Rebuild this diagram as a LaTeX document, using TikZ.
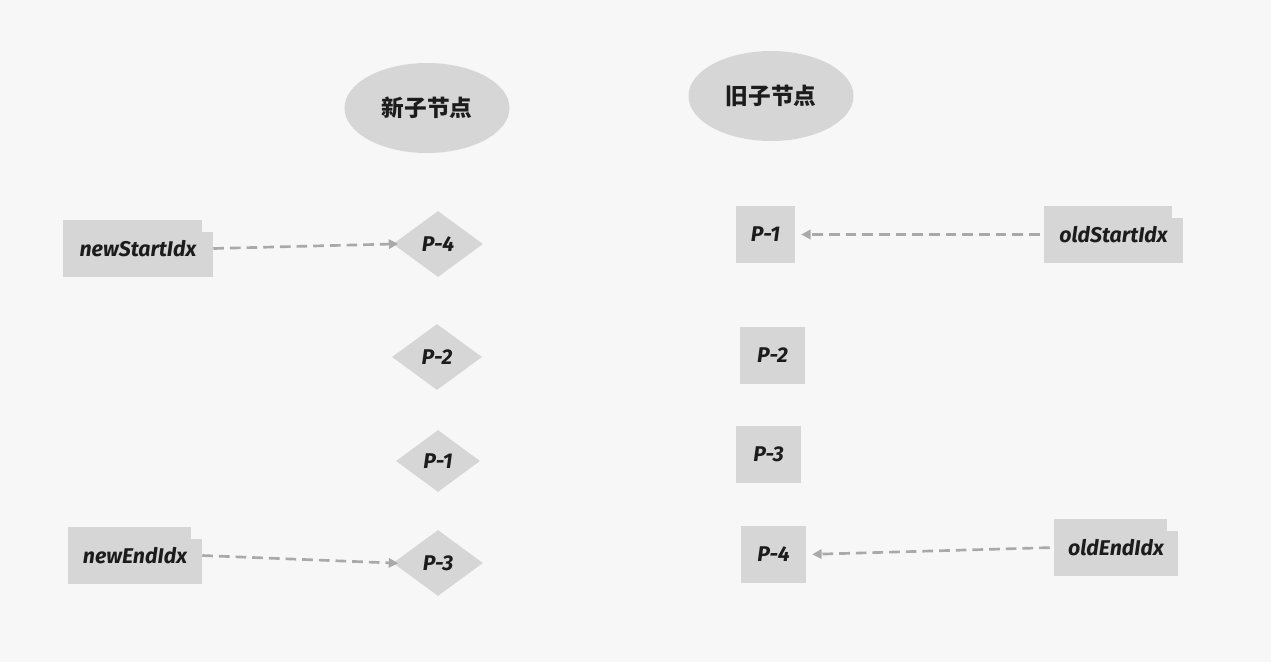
\documentclass[tikz,border=0pt]{standalone}
\usepackage{fontspec}
\setmainfont{Fira Sans}
\newfontfamily\cjk{Noto Sans CJK SC}
\usetikzlibrary{shapes.geometric,arrows.meta,calc}
\definecolor{bgcol}{HTML}{F7F7F7}
\definecolor{boxcol}{HTML}{D6D6D6}
\definecolor{linecol}{HTML}{A9A9A9}
\definecolor{txtcol}{HTML}{1C1C1C}

\begin{document}
\begin{tikzpicture}[x=0.75pt,y=-0.75pt,
    every node/.style={text=txtcol,font=\fontsize{16}{18}\selectfont\bfseries\itshape},
    head/.style={ellipse,fill=boxcol,font=\cjk\fontsize{17}{19}\selectfont\bfseries,
        minimum width=123.75pt,minimum height=67.5pt},
    vnode/.style={diamond,fill=boxcol,inner sep=0pt,minimum width=67.5pt,minimum height=49.5pt},
    onode/.style={rectangle,fill=boxcol,inner sep=0pt,minimum width=48.75pt,minimum height=42.75pt},
    idx/.style={rectangle,fill=boxcol,inner sep=0pt,minimum height=42.75pt,
        path picture={\fill[bgcol] ($(path picture bounding box.north east)+(-8.25pt,0)$)
            rectangle ($(path picture bounding box.north east)+(0,-9pt)$);}},
    link/.style={draw=linecol,line width=2pt,dash pattern=on 8pt off 4.5pt,
        -{Triangle[length=7pt,width=7pt]}}]
    \fill[bgcol] (0,0) rectangle (1271,662);

    % headers
    \node[head] (newHead) at (427,108) {新子节点};
    \node[head] (oldHead) at (771,96) {旧子节点};

    % new children
    \node[vnode] (n4) at (438,244) {P-4};
    \node[vnode] (n2) at (437,357) {P-2};
    \node[vnode,minimum width=63pt,minimum height=46.5pt] (n1) at (438,461) {P-1};
    \node[vnode] (n3) at (438,563) {P-3};

    % old children
    \node[onode,minimum width=44.25pt] (o1) at (765.5,234.5) {P-1};
    \node[onode] (o2) at (772.5,355.5) {P-2};
    \node[onode] (o3) at (768.5,454.5) {P-3};
    \node[onode] (o4) at (773.5,554.5) {P-4};

    % indices
    \node[idx,minimum width=112.5pt] (newStart) at (138,248.5) {newStartIdx};
    \node[idx,minimum width=100.5pt] (newEnd) at (135,555.5) {newEndIdx};
    \node[idx,minimum width=104.25pt] (oldStart) at (1113.5,234.5) {oldStartIdx};
    \node[idx,minimum width=93pt] (oldEnd) at (1116,547.5) {oldEndIdx};

    \draw[link,shorten >=-4pt] (newStart.east) -- (n4.west);
    \draw[link,shorten >=-4pt] (newEnd.east) -- (n3.west);
    \draw[link,shorten >=4.5pt,shorten <=3pt] (oldStart.west) -- (o1.east);
    \draw[link,shorten >=4.5pt,shorten <=3pt] (oldEnd.west) -- (o4.east);
\end{tikzpicture}
\end{document}
